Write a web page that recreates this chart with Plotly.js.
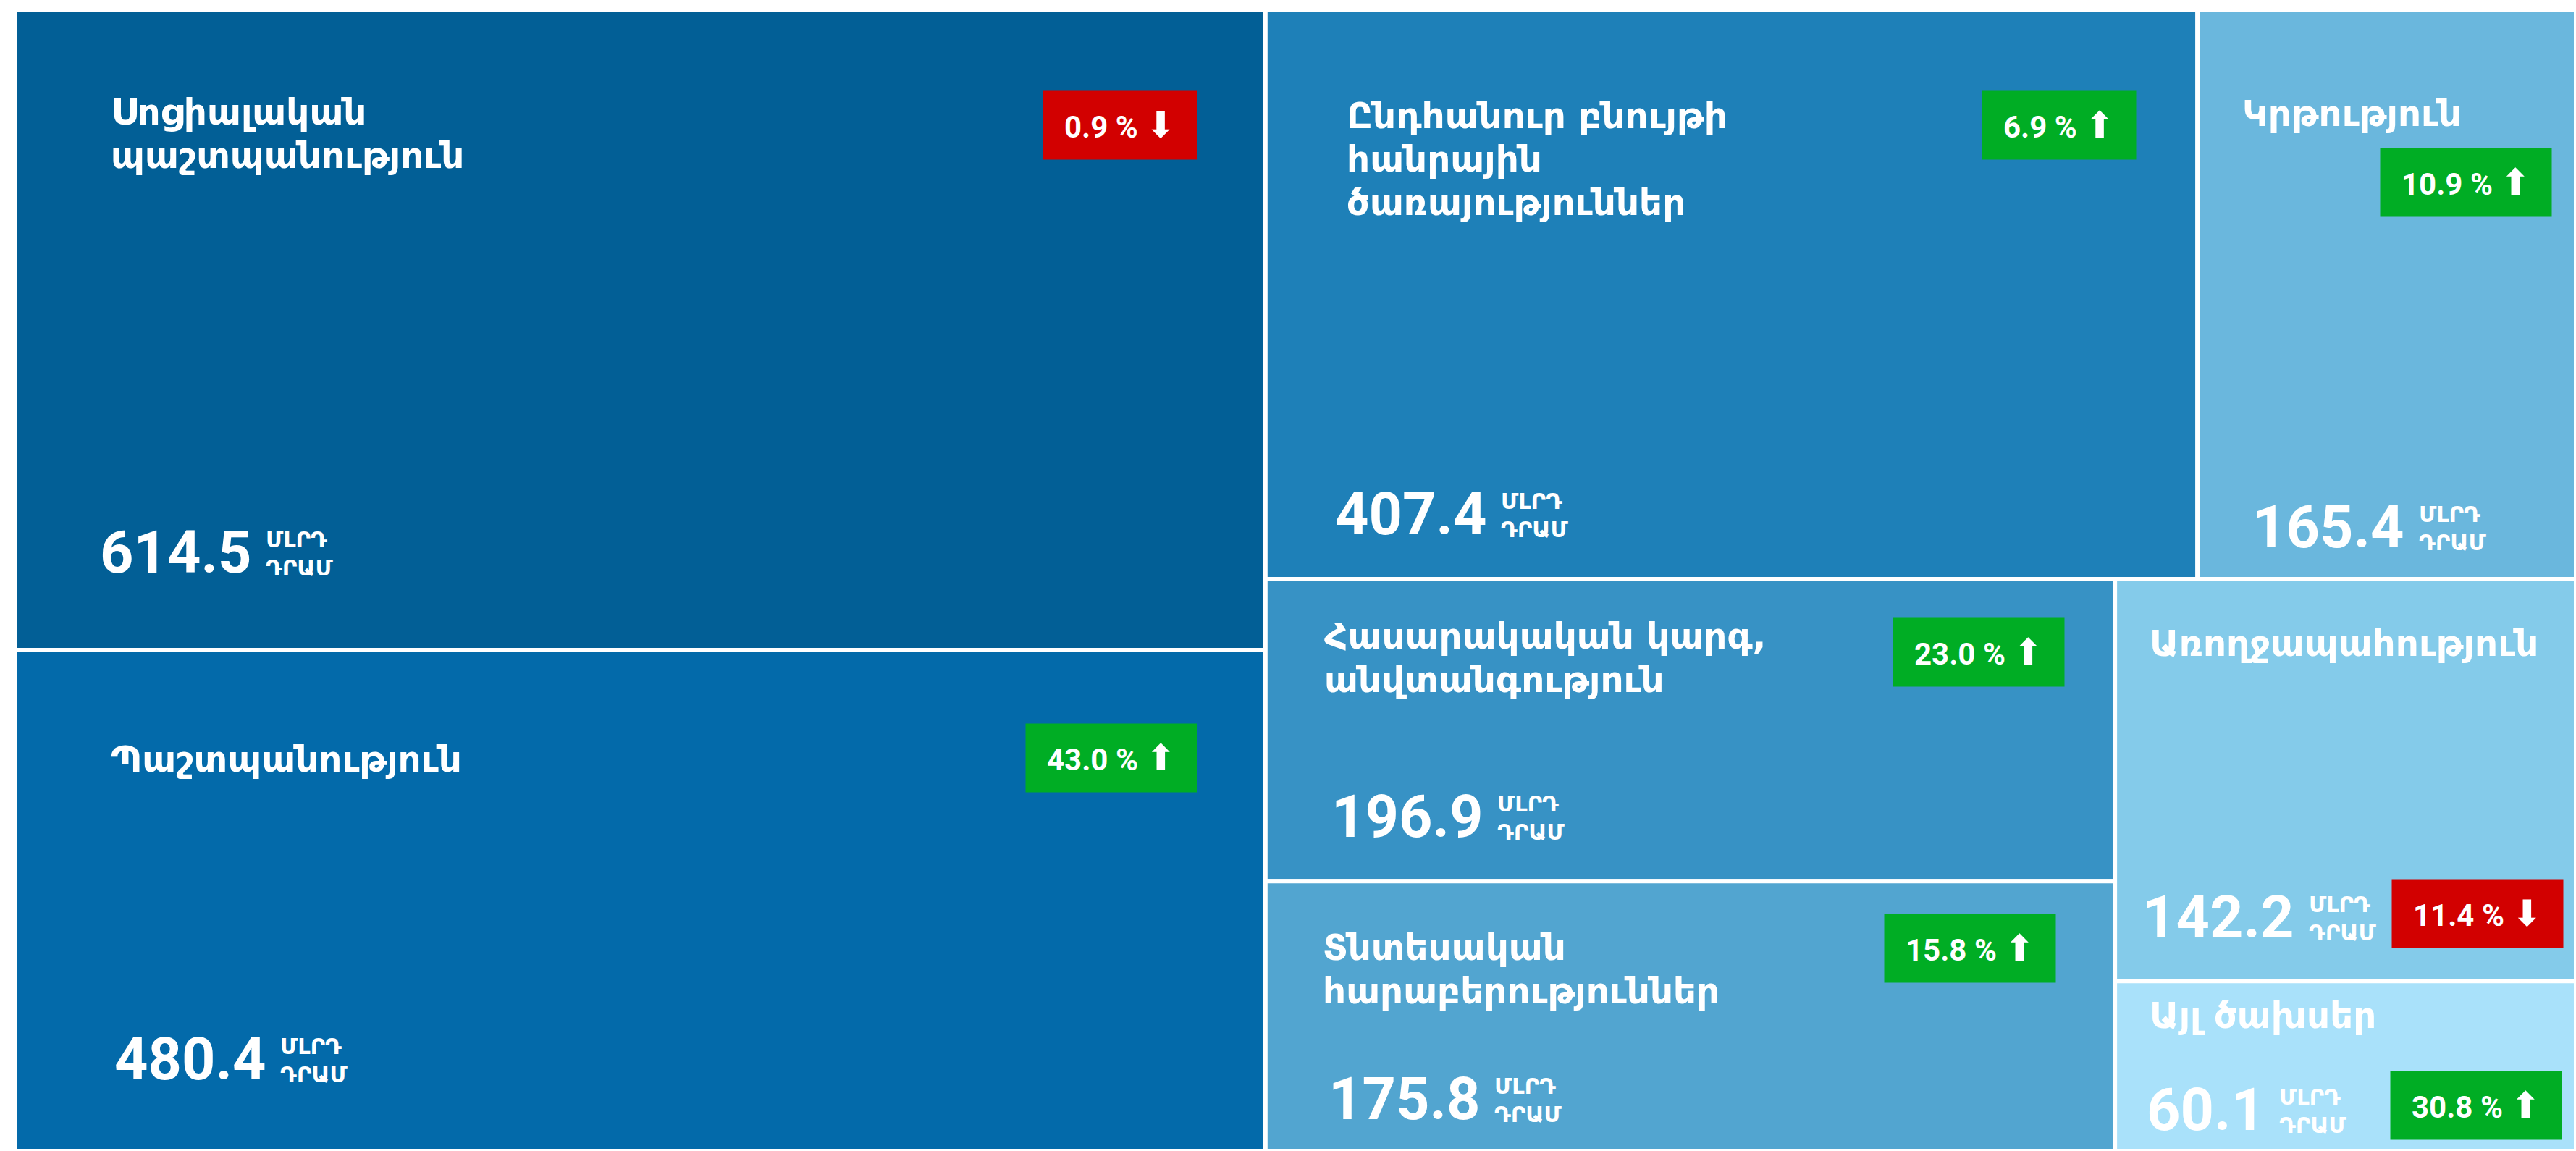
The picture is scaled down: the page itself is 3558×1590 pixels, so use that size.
<!DOCTYPE html>
<html>
<head>
<meta charset="utf-8">
<script src="https://cdn.plot.ly/plotly-3.0.1.min.js"></script>
<style>
html,body{margin:0;padding:0;background:#ffffff;overflow:hidden}
#chart{width:3558px;height:1590px}
</style>
</head>
<body>
<div id="chart"></div>
<script>
// ---------------- DATA ----------------
const categories = [
  'Սոցիալական պաշտպանություն',
  'Պաշտպանություն',
  'Ընդհանուր բնույթի հանրային ծառայություններ',
  'Կրթություն',
  'Հասարակական կարգ, անվտանգություն',
  'Տնտեսական հարաբերություններ',
  'Առողջապահություն',
  'Այլ ծախսեր'
];
const categoryLines = [
  ['Սոցիալական', 'պաշտպանություն'],
  ['Պաշտպանություն'],
  ['Ընդհանուր բնույթի', 'հանրային', 'ծառայություններ'],
  ['Կրթություն'],
  ['Հասարակական կարգ,', 'անվտանգություն'],
  ['Տնտեսական', 'հարաբերություններ'],
  ['Առողջապահություն'],
  ['Այլ ծախսեր']
];
const values = [614.5, 480.4, 407.4, 165.4, 196.9, 175.8, 142.2, 60.1];   // billion AMD
const changes = [-0.9, 43.0, 6.9, 10.9, 23.0, 15.8, -11.4, 30.8];         // % change
const unitLines = ['ՄԼՐԴ', 'ԴՐԱՄ'];

// arrangement of the tiles (grouping only)
const groupIds     = ['root', 'L', 'R', 'RT', 'RB', 'C1', 'C2'];
const groupParents = ['', 'root', 'root', 'R', 'R', 'RB', 'RB'];
const leafParents  = ['L', 'L', 'RT', 'RT', 'C1', 'C1', 'C2', 'C2'];

// ---------------- STYLE ----------------
const tileColors = ['#025F96', '#036AAA', '#1E80B8', '#6AB7DD', '#3792C5', '#52A5D0', '#84CBEA', '#A9E1FA'];
// label insets inside each tile (px from the tile's visible edges)
const labelInsets = [
  {nameL: 128, nameT: 120, numL: 113, numB: 109, badgeR: 91, badgeT: 109},
  {nameL: 128, nameT: 129, numL: 133, numB: 101, badgeR: 91, badgeT: 98},
  {nameL: 108, nameT: 125, numL: 92,  numB: 64,  badgeR: 81, badgeT: 109},
  {nameL: 58,  nameT: 122, numL: 72,  numB: 46,  badgeR: 30, badgeT: 96},
  {nameL: 77,  nameT: 57,  numL: 87,  numB: 63,  badgeR: 66, badgeT: 50},
  {nameL: 75,  nameT: 70,  numL: 83,  numB: 46,  badgeR: 78, badgeT: 42},
  {nameL: 44,  nameT: 67,  numL: 34,  numB: 62,  badgeR: 14, badgeT: null},
  {nameL: 44,  nameT: 26,  numL: 40,  numB: 31,  badgeR: 16, badgeT: null}
];
const upColor = '#00AD24', downColor = '#D20000';
const NAME_FONT = 'DejaVu Sans', NAME_SIZE = 50, NAME_LINE = 60;
const NUM_FONT = 'Roboto', NUM_SIZE = 81;
const UNIT_SIZE = 31, UNIT_LINE = 39;
const BADGE_SIZE = 42, ARROW_SIZE = 50, BADGE_H = 94;

const gd = document.getElementById('chart');
const leafIds = categories.map((_, i) => 'cat' + i);

const trace = {
  type: 'treemap',
  ids: groupIds.concat(leafIds),
  labels: groupIds.concat(categories),
  parents: groupParents.concat(leafParents),
  values: groupIds.map(() => 0).concat(values),
  branchvalues: 'remainder',
  sort: false,
  tiling: {packing: 'slice-dice', pad: 0},
  marker: {
    colors: groupIds.map(() => '#ffffff').concat(tileColors),
    line: {color: '#ffffff', width: 6},
    pad: {t: 0, l: 0, r: 0, b: 0}
  },
  leaf: {opacity: 1},
  textinfo: 'none',
  hoverinfo: 'skip',
  pathbar: {visible: false}
};

const layout = {
  width: 3558, height: 1590,
  margin: {l: 21, t: 13, r: 0, b: 0},
  paper_bgcolor: '#ffffff',
  showlegend: false
};

const cnv = document.createElement('canvas');
const ctx = cnv.getContext('2d');
function measure(text, font) { ctx.font = font; return ctx.measureText(text).width; }
function hexToRgb(h) {
  const n = parseInt(h.slice(1), 16);
  return 'rgb(' + ((n >> 16) & 255) + ',' + ((n >> 8) & 255) + ',' + (n & 255) + ')';
}

function addLabels() {
  const sz = gd._fullLayout._size;
  const base = gd.getBoundingClientRect();
  const rects = {};
  gd.querySelectorAll('g.slice').forEach(g => {
    const p = g.querySelector('path.surface') || g.querySelector('path');
    if (!p) return;
    const r = p.getBoundingClientRect();
    // visible fill area (half of the 6px white outline is drawn inside)
    const rect = {x0: r.left - base.left + 3, x1: r.right - base.left - 3,
                  y0: r.top - base.top + 3, y1: r.bottom - base.top - 3};
    let id = null;
    const d = g.__data__;
    if (d) {
      if (d.data && d.data.data && d.data.data.id != null) id = d.data.data.id;
      else if (d.data && d.data.id != null) id = d.data.id;
    }
    if (id != null && leafIds.indexOf(id) >= 0) rects[id] = rect;
    const fill = (p.style.fill || '').replace(/\s/g, '');
    tileColors.forEach((c, i) => { if (!rects['cat' + i] && fill === hexToRgb(c)) rects['cat' + i] = rect; });
  });

  const X = px => (px - sz.l) / sz.w;
  const Y = py => 1 - (py - sz.t) / sz.h;
  const ann = [];
  const txt = (x, y, xa, ya, text, font) => ann.push({
    xref: 'paper', yref: 'paper', x: X(x), y: Y(y), xanchor: xa, yanchor: ya,
    align: 'left', showarrow: false, borderpad: 0, text: text, font: font
  });

  categories.forEach((c, i) => {
    const r = rects['cat' + i];
    if (!r) return;
    const ins = labelInsets[i];

    // name, one annotation per line for a tight line spacing
    const lines = categoryLines[i];
    const nameFont = 'bold ' + NAME_SIZE + 'px "' + NAME_FONT + '"';
    const nameW = Math.max.apply(null, lines.map(t => measure(t, nameFont)));
    const capTop = r.y0 + ins.nameT;
    lines.forEach((t, k) => txt(r.x0 + ins.nameL, capTop - 0.22 * NAME_SIZE + k * NAME_LINE, 'left', 'top', t,
      {family: NAME_FONT, size: NAME_SIZE, color: '#ffffff', weight: 700}));

    // value + unit
    const baseline = r.y1 - ins.numB;
    const numCap = 0.711 * NUM_SIZE;
    const numText = values[i].toFixed(1);
    const numW = measure(numText, 'bold ' + NUM_SIZE + 'px ' + NUM_FONT);
    const numX = r.x0 + ins.numL;
    txt(numX, baseline + 0.32 * NUM_SIZE, 'left', 'bottom', numText,
      {family: NUM_FONT, size: NUM_SIZE, color: '#ffffff', weight: 700});
    const unitFont = 'bold ' + UNIT_SIZE + 'px "DejaVu Sans"';
    const unitW = Math.max.apply(null, unitLines.map(t => measure(t, unitFont)));
    const unitX = numX + numW + 20;
    const unitBase = [baseline - UNIT_LINE, baseline];
    unitLines.forEach((t, k) => txt(unitX, unitBase[k] + 0.55 * UNIT_SIZE, 'left', 'bottom', t,
      {family: 'DejaVu Sans', size: UNIT_SIZE, color: '#ffffff', weight: 700}));

    // badge
    const up = changes[i] >= 0;
    const pct = Math.abs(changes[i]).toFixed(1) + ' %';
    const arrow = up ? '⬆' : '⬇';
    const badgeW = measure(pct + ' ', 'bold ' + BADGE_SIZE + 'px ' + NUM_FONT) +
                   measure(arrow, ARROW_SIZE + 'px "DejaVu Sans"') + 58;
    const bx = r.x1 - ins.badgeR;
    let yAnchor = 'top', by;
    if (ins.badgeT == null) {
      yAnchor = 'middle'; by = baseline - numCap / 2;
      if (unitX + unitW + 6 > bx - badgeW) {           // no room beside the value
        yAnchor = 'bottom'; by = baseline - numCap - 30;
      }
    } else {
      by = r.y0 + ins.badgeT;
      if (r.x0 + ins.nameL + nameW + 20 > bx - badgeW) { // no room beside the name
        by = capTop + (lines.length - 1) * NAME_LINE + 0.729 * NAME_SIZE + 30;
      }
    }
    ann.push({
      xref: 'paper', yref: 'paper', x: X(bx), y: Y(by),
      xanchor: 'right', yanchor: yAnchor, align: 'center', valign: 'middle', showarrow: false,
      borderpad: 0, width: badgeW, height: BADGE_H, bgcolor: up ? upColor : downColor,
      text: pct + ' <span style="font-family:DejaVu Sans;font-weight:normal;font-size:' + ARROW_SIZE + 'px">' + arrow + '</span>',
      font: {family: NUM_FONT, size: BADGE_SIZE, color: '#ffffff', weight: 700}
    });
  });
  return Plotly.relayout(gd, {annotations: ann});
}

Plotly.newPlot(gd, [trace], layout, {staticPlot: true, displayModeBar: false}).then(addLabels);
</script>
</body>
</html>
